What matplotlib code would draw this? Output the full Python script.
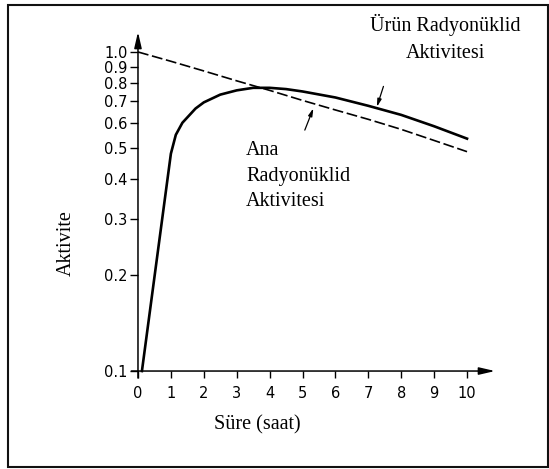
import matplotlib
matplotlib.use("Agg")
import matplotlib.pyplot as plt
from matplotlib.patches import Rectangle
from matplotlib.ticker import FixedLocator, NullLocator, FixedFormatter

# ana radyonüklid (kesikli çizgi)
ana_t = [0, 1, 2, 3, 4, 5, 6, 7, 8, 9, 10]
ana_akt = [1.0, 0.935, 0.872, 0.812, 0.758, 0.705, 0.658, 0.615, 0.572, 0.528, 0.487]

# ürün radyonüklid (düz çizgi)
urun_t = [0.12, 1.0, 1.15, 1.35, 1.75, 2.0, 2.5, 3.0, 3.5, 4.0, 4.5, 5.0, 6.0, 7.0, 8.0, 9.0, 10.0]
urun_akt = [0.1, 0.48, 0.55, 0.60, 0.665, 0.695, 0.735, 0.758, 0.772, 0.772, 0.765, 0.752,
            0.72, 0.678, 0.635, 0.585, 0.535]

x_ticks = [0, 1, 2, 3, 4, 5, 6, 7, 8, 9, 10]
y_ticks = [0.1, 0.2, 0.3, 0.4, 0.5, 0.6, 0.7, 0.8, 0.9, 1.0]
y_labels = ["0.1", "0.2", "0.3", "0.4", "0.5", "0.6", "0.7", "0.8", "0.9", "1.0"]

W, H = 549, 469
fig = plt.figure(figsize=(W / 100, H / 100), dpi=100)

x0, x1 = -0.2, 10.85
y0, y1 = 0.0951, 1.155
left_px, right_px, top_px, bot_px = 131.4, 495, 32, 378
ax = fig.add_axes([left_px / W, 1 - bot_px / H, (right_px - left_px) / W, (bot_px - top_px) / H])
ax.set_yscale("log")
ax.set_xlim(x0, x1)
ax.set_ylim(y0, y1)

for s in ax.spines.values():
    s.set_visible(False)
ax.spines["left"].set_position(("data", 0))
ax.spines["bottom"].set_position(("data", 0.1))

serif = "Liberation Serif"
sans = "DejaVu Sans"

ax.xaxis.set_major_locator(FixedLocator(x_ticks))
ax.yaxis.set_major_locator(FixedLocator(y_ticks))
ax.yaxis.set_major_formatter(FixedFormatter(y_labels))
ax.yaxis.set_minor_locator(NullLocator())
ax.xaxis.set_minor_locator(NullLocator())
ax.tick_params(axis="x", direction="out", length=5, width=1.0, pad=6, labelsize=10.5, colors="black")
ax.tick_params(axis="y", direction="out", length=6, width=1.0, pad=1.5, labelsize=10.5, colors="black")
for lab in ax.get_xticklabels() + ax.get_yticklabels():
    lab.set_fontfamily(sans)

# eksen okları
arrow = dict(arrowstyle="-|>,head_length=0.95,head_width=0.22", lw=1.1, color="black",
             shrinkA=0, shrinkB=0)
ax.annotate("", xy=(x1, 0.1), xytext=(x0, 0.1), arrowprops=arrow, annotation_clip=False)
ax.annotate("", xy=(0, y1), xytext=(0, y0), arrowprops=arrow, annotation_clip=False)

ax.plot(ana_t, ana_akt, color="black", lw=1.2, ls=(0, (6.5, 2.2)), clip_on=False)
ax.plot(urun_t, urun_akt, color="black", lw=1.9, clip_on=False, solid_joinstyle="round")

# eğrileri gösteren küçük oklar
small = dict(arrowstyle="-|>,head_length=0.45,head_width=0.12", lw=0.9, color="black",
             shrinkA=0, shrinkB=0)
ax.annotate("", xy=(7.26, 0.673), xytext=(7.46, 0.78), arrowprops=small)
ax.annotate("", xy=(5.33, 0.666), xytext=(5.07, 0.569), arrowprops=small)

fig.text(445 / W, 1 - 38.5 / H, "Ürün Radyonüklid\nAktivitesi", ha="center", va="center",
         multialignment="center", fontsize=14.5, family=serif, linespacing=1.6)
fig.text(246 / W, 1 - 176 / H, "Ana\nRadyonüklid\nAktivitesi", ha="left", va="center",
         multialignment="left", fontsize=14.5, family=serif, linespacing=1.45)
fig.text(257 / W, 1 - 425 / H, "Süre (saat)", ha="center", va="center",
         fontsize=14.5, family=serif)
fig.text(66 / W, 1 - 243 / H, "Aktivite", ha="center", va="center", rotation=90,
         fontsize=14.5, family=serif)

# çerçeve
fig.patches.append(Rectangle((7.5 / W, 2.5 / H), 540 / W, 461.5 / H, transform=fig.transFigure,
                             fill=False, lw=1.5, edgecolor="#111111"))

fig.savefig("out.png", dpi=100)
